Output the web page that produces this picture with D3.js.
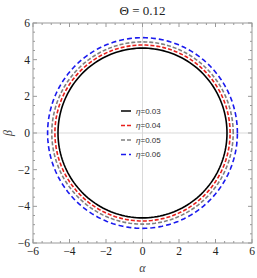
<!DOCTYPE html>
<html>
<head>
<meta charset="utf-8">
<script src="https://cdn.jsdelivr.net/npm/d3@7"></script>
<style>
  body { margin: 0; background: #fff; }
  .tick-label { font-family: "Liberation Serif", "Times New Roman", serif; font-size: 11.5px; fill: #222; }
  .legend-label { font-family: "Liberation Sans", Arial, sans-serif; font-size: 8px; fill: #333; }
</style>
</head>
<body>
<div id="chart"></div>
<script>
// shadow radii, one per eta
const etas = [0.03, 0.04, 0.05, 0.06];
const radii = [4.63, 4.8, 4.97, 5.2];
const colors = ['#000000', '#e8201c', '#808080', '#1a1aee'];
const dashes = [null, '4,2', '4,2', '5,3'];
const majorTicks = [-6, -4, -2, 0, 2, 4, 6];

const width = 257, height = 278;
const margin = { left: 33, top: 23, right: 5, bottom: 35 };

const svg = d3.select('#chart').append('svg')
    .attr('width', width)
    .attr('height', height);

const x = d3.scaleLinear().domain([-6, 6]).range([margin.left, width - margin.right]);
const y = d3.scaleLinear().domain([-6, 6]).range([height - margin.bottom, margin.top]);

// axis lines through origin
svg.append('line')
    .attr('x1', x(0)).attr('x2', x(0)).attr('y1', y(6)).attr('y2', y(-6))
    .attr('stroke', '#d9d9d9').attr('stroke-width', 1);
svg.append('line')
    .attr('x1', x(-6)).attr('x2', x(6)).attr('y1', y(0)).attr('y2', y(0))
    .attr('stroke', '#d9d9d9').attr('stroke-width', 1);

// circles
const line = d3.line().x(d => x(d[0])).y(d => y(d[1]));
const angles = d3.range(0, 361, 2).map(a => a * Math.PI / 180);

radii.forEach((r, i) => {
    svg.append('path')
        .datum(angles.map(t => [r * Math.cos(t), r * Math.sin(t)]))
        .attr('d', line)
        .attr('fill', 'none')
        .attr('stroke', colors[i])
        .attr('stroke-width', 1.6)
        .attr('stroke-dasharray', dashes[i]);
});

// frame
const frame = svg.append('g');
frame.append('rect')
    .attr('x', x(-6)).attr('y', y(6))
    .attr('width', x(6) - x(-6)).attr('height', y(-6) - y(6))
    .attr('fill', 'none').attr('stroke', '#999').attr('stroke-width', 1);

const minor = d3.range(-6, 6.01, 0.5);
const tickColor = '#999';
minor.forEach(v => {
    const len = majorTicks.includes(v) ? 4 : 2;
    // bottom & top
    frame.append('line').attr('x1', x(v)).attr('x2', x(v)).attr('y1', y(-6)).attr('y2', y(-6) - len).attr('stroke', tickColor);
    frame.append('line').attr('x1', x(v)).attr('x2', x(v)).attr('y1', y(6)).attr('y2', y(6) + len).attr('stroke', tickColor);
    // left & right
    frame.append('line').attr('y1', y(v)).attr('y2', y(v)).attr('x1', x(-6)).attr('x2', x(-6) + len).attr('stroke', tickColor);
    frame.append('line').attr('y1', y(v)).attr('y2', y(v)).attr('x1', x(6)).attr('x2', x(6) - len).attr('stroke', tickColor);
});

const fmt = v => (v < 0 ? '\u2212' + Math.abs(v) : String(v));

svg.append('g').selectAll('text')
    .data(majorTicks)
    .join('text')
    .attr('class', 'tick-label')
    .attr('x', d => x(d))
    .attr('y', y(-6) + 12)
    .attr('text-anchor', 'middle')
    .text(fmt);

svg.append('g').selectAll('text')
    .data(majorTicks)
    .join('text')
    .attr('class', 'tick-label')
    .attr('x', x(-6) - 3)
    .attr('y', d => y(d) + 4)
    .attr('text-anchor', 'end')
    .text(fmt);

// axis labels and title
svg.append('text')
    .attr('x', x(0)).attr('y', 272)
    .attr('text-anchor', 'middle')
    .style('font-family', '"Liberation Serif", serif')
    .style('font-style', 'italic')
    .style('font-size', '12px')
    .attr('fill', '#444')
    .text('\u03b1');

svg.append('text')
    .attr('transform', `translate(12 ${y(0)}) rotate(-90)`)
    .attr('text-anchor', 'middle')
    .style('font-family', '"Liberation Serif", serif')
    .style('font-style', 'italic')
    .style('font-size', '12px')
    .attr('fill', '#444')
    .text('\u03b2');

svg.append('text')
    .attr('x', x(0)).attr('y', 15)
    .attr('text-anchor', 'middle')
    .style('font-family', '"Liberation Serif", serif')
    .style('font-size', '13px')
    .attr('fill', '#222')
    .text('\u0398 = 0.12');

// legend
const legend = svg.append('g').attr('transform', 'translate(121 111)');
etas.forEach((e, i) => {
    const g = legend.append('g').attr('transform', `translate(0 ${i * 14.5})`);
    g.append('line')
        .attr('x1', 0).attr('x2', 10).attr('y1', 0).attr('y2', 0)
        .attr('stroke', colors[i]).attr('stroke-width', 1.5)
        .attr('stroke-dasharray', dashes[i]);
    const t = g.append('text').attr('class', 'legend-label').attr('x', 15).attr('y', 2.8);
    t.append('tspan').style('font-style', 'italic').text('\u03b7');
    t.append('tspan').text('=' + e);
});
</script>
</body>
</html>
